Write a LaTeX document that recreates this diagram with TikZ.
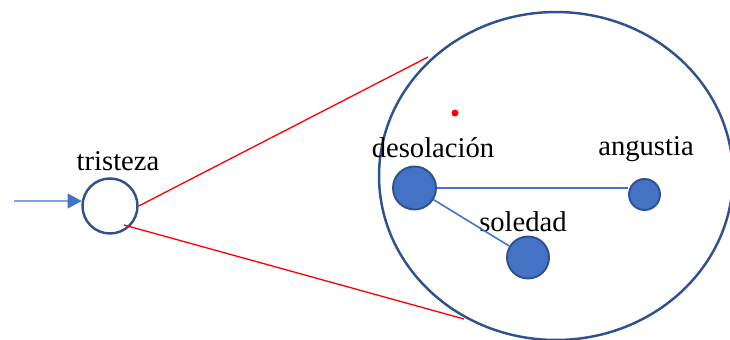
\documentclass[tikz,border=0pt]{standalone}
\usepackage{fontspec}
\setmainfont{Liberation Serif}
\usepackage{tikz}
\usetikzlibrary{arrows.meta, positioning}
\definecolor{moodfill}{HTML}{4472C4}
\definecolor{moodedge}{HTML}{2F528F}
\definecolor{zoomred}{RGB}{255,0,0}

\begin{document}
\begin{tikzpicture}[x=0.02cm, y=-0.02cm,
    word/.style={anchor=base, font=\fontsize{16.3}{18}\selectfont},
    feeling/.style={circle, draw=moodedge, fill=moodfill, line width=1.1pt, inner sep=0pt},
    link/.style={draw=moodfill, line width=0.9pt},
    zoomline/.style={zoomred, line width=0.75pt}]
  \useasboundingbox (0,0) rectangle (730,340);
  \begin{scope}
    \clip (0,0) rectangle (730,340);
    % small emotion and its label
    \node[circle, draw=moodedge, line width=1.4pt, minimum size=1.1cm, inner sep=0pt] (tris) at (110,206) {};
    \node[word] (tristezaL) at (118,171) {tristeza};
    \coordinate (inflow) at (14,201);
    \draw[moodfill, line width=0.7pt, -{Triangle[length=8pt, width=8.5pt]}] (inflow) -- (tris.170);
    % zoom lines
    \coordinate (zoomA) at (428,57);
    \coordinate (zoomB) at (464,319);
    \coordinate (trisB) at (124,225);
    \draw[zoomline] (tris.east) -- (zoomA);
    \draw[zoomline] (trisB) -- (zoomB);
    % enlarged view
    \draw[moodedge, line width=1.4pt] (556,176) ellipse [x radius=3.54cm, y radius=3.28cm];
    \fill[zoomred] (455,113) circle [radius=0.07cm];
    \node[feeling, minimum size=0.86cm] (deso) at (414.5,188) {};
    \node[feeling, minimum size=0.62cm] (angu) at (644.5,194.5) {};
    \node[feeling, minimum size=0.84cm] (sole) at (528,257.5) {};
    \node[word] (desoL) at (433,158) {desolación};
    \node[word] (anguL) at (646,156) {angustia};
    \node[word] (soleL) at (523,232) {soledad};
    \path[link] (deso.east) -- (angu.west |- deso.east);
    \path[link] (deso) -- (sole);
  \end{scope}
\end{tikzpicture}
\end{document}
